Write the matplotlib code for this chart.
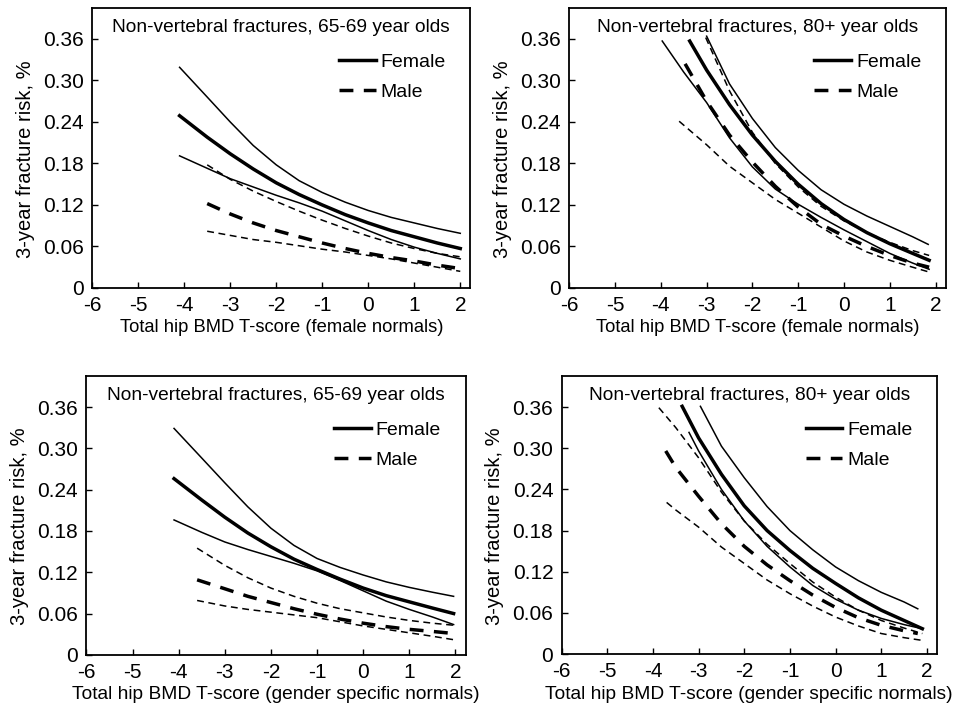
import matplotlib
matplotlib.use('Agg')
import matplotlib.pyplot as plt
from matplotlib.lines import Line2D

plt.rcParams.update({
    'font.family': ['Liberation Sans', 'DejaVu Sans'],
    'axes.linewidth': 1.3,
    'xtick.direction': 'in',
    'ytick.direction': 'in',
})

# ---------------------------------------------------------------------------
# Data (T-score, 3-year fracture risk)
# ---------------------------------------------------------------------------
# top left: 65-69 year olds, female normals
TL_F_X = [-4.1, -3.5, -3, -2.5, -2, -1.5, -1, -0.5, 0, 0.5, 1, 1.5, 2]
TL_F_EST = [0.249, 0.218, 0.194, 0.172, 0.152, 0.135, 0.120, 0.106, 0.094, 0.083, 0.074, 0.065, 0.057]
TL_F_HI = [0.319, 0.276, 0.240, 0.206, 0.178, 0.155, 0.138, 0.124, 0.112, 0.102, 0.094, 0.086, 0.079]
TL_F_LO = [0.191, 0.173, 0.158, 0.146, 0.134, 0.123, 0.111, 0.097, 0.083, 0.070, 0.059, 0.050, 0.042]
TL_M_X = [-3.5, -3, -2.5, -2, -1.5, -1, -0.5, 0, 0.5, 1, 1.5, 2]
TL_M_EST = [0.122, 0.107, 0.094, 0.083, 0.074, 0.065, 0.057, 0.050, 0.044, 0.039, 0.033, 0.028]
TL_M_HI = [0.178, 0.157, 0.140, 0.125, 0.111, 0.098, 0.086, 0.075, 0.065, 0.057, 0.050, 0.045]
TL_M_LO = [0.082, 0.076, 0.070, 0.066, 0.061, 0.056, 0.052, 0.047, 0.042, 0.036, 0.030, 0.024]

# top right: 80+ year olds, female normals
TR_F_EST_X = [-3.37, -3, -2.5, -2, -1.5, -1, -0.5, 0, 0.5, 1, 1.5, 1.86]
TR_F_EST = [0.357, 0.315, 0.265, 0.221, 0.183, 0.150, 0.122, 0.099, 0.080, 0.064, 0.050, 0.040]
TR_F_HI_X = [-3.0, -2.5, -2, -1.5, -1, -0.5, 0, 0.5, 1, 1.5, 1.84]
TR_F_HI = [0.364, 0.295, 0.245, 0.203, 0.170, 0.142, 0.121, 0.104, 0.089, 0.074, 0.063]
TR_F_LO_X = [-3.97, -3.5, -3, -2.5, -2, -1.5, -1, -0.5, 0, 0.5, 1, 1.5, 1.86]
TR_F_LO = [0.357, 0.312, 0.268, 0.217, 0.175, 0.143, 0.121, 0.102, 0.084, 0.067, 0.050, 0.036, 0.027]
TR_M_EST_X = [-3.47, -3, -2.5, -2, -1.5, -1, -0.5, 0, 0.5, 1, 1.5, 1.86]
TR_M_EST = [0.324, 0.270, 0.221, 0.182, 0.147, 0.117, 0.092, 0.075, 0.060, 0.047, 0.036, 0.030]
TR_M_HI_X = [-3.02, -2.5, -2, -1.5, -1, -0.5, 0, 0.5, 1, 1.5, 1.86]
TR_M_HI = [0.362, 0.285, 0.225, 0.180, 0.146, 0.118, 0.097, 0.080, 0.066, 0.054, 0.047]
TR_M_LO_X = [-3.6, -3, -2.5, -2, -1.5, -1, -0.5, 0, 0.5, 1, 1.5, 1.86]
TR_M_LO = [0.241, 0.207, 0.176, 0.152, 0.128, 0.108, 0.088, 0.068, 0.052, 0.040, 0.030, 0.023]

# bottom left: 65-69 year olds, gender specific normals
BL_F_X = [-4.1, -3.5, -3, -2.5, -2, -1.5, -1, -0.5, 0, 0.5, 1, 1.5, 1.96]
BL_F_EST = [0.256, 0.225, 0.200, 0.177, 0.157, 0.139, 0.124, 0.110, 0.097, 0.086, 0.077, 0.068, 0.060]
BL_F_HI = [0.329, 0.286, 0.250, 0.215, 0.184, 0.159, 0.140, 0.127, 0.116, 0.106, 0.098, 0.091, 0.085]
BL_F_LO = [0.196, 0.178, 0.164, 0.153, 0.143, 0.133, 0.122, 0.108, 0.093, 0.078, 0.066, 0.055, 0.044]
BL_M_X = [-3.6, -3, -2.5, -2, -1.5, -1, -0.5, 0, 0.5, 1, 1.5, 1.96]
BL_M_EST = [0.109, 0.096, 0.085, 0.076, 0.067, 0.059, 0.052, 0.046, 0.041, 0.037, 0.034, 0.031]
BL_M_HI = [0.155, 0.130, 0.112, 0.097, 0.085, 0.075, 0.067, 0.061, 0.055, 0.050, 0.046, 0.043]
BL_M_LO = [0.079, 0.071, 0.066, 0.062, 0.058, 0.054, 0.048, 0.042, 0.037, 0.032, 0.027, 0.022]

# bottom right: 80+ year olds, gender specific normals
BR_F_EST_X = [-3.36, -3, -2.5, -2, -1.5, -1, -0.5, 0, 0.5, 1, 1.5, 1.9]
BR_F_EST = [0.361, 0.315, 0.262, 0.216, 0.180, 0.151, 0.125, 0.103, 0.082, 0.064, 0.049, 0.037]
BR_F_HI_X = [-2.96, -2.5, -2, -1.5, -1, -0.5, 0, 0.5, 1, 1.5, 1.8]
BR_F_HI = [0.361, 0.303, 0.257, 0.215, 0.180, 0.152, 0.127, 0.107, 0.090, 0.076, 0.066]
BR_F_LO_X = [-3.21, -3, -2.5, -2, -1.5, -1, -0.5, 0, 0.5, 1, 1.5, 1.9]
BR_F_LO = [0.323, 0.296, 0.240, 0.194, 0.157, 0.127, 0.100, 0.080, 0.064, 0.052, 0.043, 0.037]
BR_M_EST_X = [-3.72, -3.5, -3, -2.5, -2, -1.5, -1, -0.5, 0, 0.5, 1, 1.5, 1.8]
BR_M_EST = [0.296, 0.272, 0.230, 0.190, 0.157, 0.130, 0.107, 0.086, 0.068, 0.053, 0.042, 0.034, 0.030]
BR_M_HI_X = [-3.87, -3.5, -3, -2.5, -2, -1.5, -1, -0.5, 0, 0.5, 1, 1.5, 1.9]
BR_M_HI = [0.359, 0.330, 0.286, 0.236, 0.194, 0.160, 0.132, 0.105, 0.083, 0.064, 0.049, 0.038, 0.030]
BR_M_LO_X = [-3.7, -3.5, -3, -2.5, -2, -1.5, -1, -0.5, 0, 0.5, 1, 1.5, 1.9]
BR_M_LO = [0.221, 0.210, 0.185, 0.156, 0.132, 0.108, 0.088, 0.070, 0.054, 0.041, 0.030, 0.024, 0.020]

X_TICKS = [-6, -5, -4, -3, -2, -1, 0, 1, 2]
Y_TICKS = [0, 0.06, 0.12, 0.18, 0.24, 0.30, 0.36]
Y_TICK_LABELS = ['0', '0.06', '0.12', '0.18', '0.24', '0.30', '0.36']

TITLE_YOUNG = 'Non-vertebral fractures, 65-69 year olds'
TITLE_OLD = 'Non-vertebral fractures, 80+ year olds'
XLAB_FEMALE = 'Total hip BMD T-score (female normals)'
XLAB_GENDER = 'Total hip BMD T-score (gender specific normals)'
YLAB = '3-year fracture risk, %'

THICK = 2.5
THIN = 1.1
THICK_DASH = (4.0, 3.0)
THIN_DASH = (4.5, 3.0)


def panel(ax, title, xlabel, xlab_size, f, m):
    # f, m: (est_x, est, hi_x, hi, lo_x, lo)
    ax.plot(f[0], f[1], color='black', lw=THICK)
    ax.plot(f[2], f[3], color='black', lw=THIN)
    ax.plot(f[4], f[5], color='black', lw=THIN)
    ax.plot(m[0], m[1], color='black', lw=THICK, linestyle=(0, THICK_DASH))
    ax.plot(m[2], m[3], color='black', lw=THIN, linestyle=(0, THIN_DASH))
    ax.plot(m[4], m[5], color='black', lw=THIN, linestyle=(0, THIN_DASH))

    ax.set_xlim(-5.95, 2.22)
    ax.set_ylim(0, 0.405)
    ax.set_xticks(X_TICKS)
    ax.set_xticklabels([str(t) for t in X_TICKS])
    ax.set_yticks(Y_TICKS)
    ax.set_yticklabels(Y_TICK_LABELS)
    ax.tick_params(length=4, width=1, labelsize=15, pad=6)
    ax.set_xlabel(xlabel, fontsize=xlab_size, labelpad=3)
    ax.set_ylabel(YLAB, fontsize=14.5, labelpad=6)
    ax.yaxis.label.set_y(0.46)
    ax.text(0.5, 0.93, title, transform=ax.transAxes, ha='center', va='center',
            fontsize=13.8)

    handles = [Line2D([], [], color='black', lw=THICK),
               Line2D([], [], color='black', lw=THICK, linestyle=(0, THICK_DASH))]
    ax.legend(handles, ['Female', 'Male'], loc='upper right',
              bbox_to_anchor=(0.935, 0.838), frameon=False, fontsize=14,
              handlelength=1.9, handletextpad=0.25, labelspacing=0.65,
              borderpad=0, borderaxespad=0)


fig = plt.figure(figsize=(9.6, 7.11), dpi=100)
ax1 = fig.add_axes([0.096, 0.595, 0.394, 0.394])
ax2 = fig.add_axes([0.593, 0.595, 0.392, 0.394])
ax3 = fig.add_axes([0.090, 0.079, 0.395, 0.392])
ax4 = fig.add_axes([0.585, 0.080, 0.391, 0.391])

panel(ax1, TITLE_YOUNG, XLAB_FEMALE, 13.2,
      (TL_F_X, TL_F_EST, TL_F_X, TL_F_HI, TL_F_X, TL_F_LO),
      (TL_M_X, TL_M_EST, TL_M_X, TL_M_HI, TL_M_X, TL_M_LO))
panel(ax2, TITLE_OLD, XLAB_FEMALE, 13.2,
      (TR_F_EST_X, TR_F_EST, TR_F_HI_X, TR_F_HI, TR_F_LO_X, TR_F_LO),
      (TR_M_EST_X, TR_M_EST, TR_M_HI_X, TR_M_HI, TR_M_LO_X, TR_M_LO))
panel(ax3, TITLE_YOUNG, XLAB_GENDER, 13.8,
      (BL_F_X, BL_F_EST, BL_F_X, BL_F_HI, BL_F_X, BL_F_LO),
      (BL_M_X, BL_M_EST, BL_M_X, BL_M_HI, BL_M_X, BL_M_LO))
panel(ax4, TITLE_OLD, XLAB_GENDER, 13.8,
      (BR_F_EST_X, BR_F_EST, BR_F_HI_X, BR_F_HI, BR_F_LO_X, BR_F_LO),
      (BR_M_EST_X, BR_M_EST, BR_M_HI_X, BR_M_HI, BR_M_LO_X, BR_M_LO))

fig.savefig('out.png', dpi=100, facecolor='white')
